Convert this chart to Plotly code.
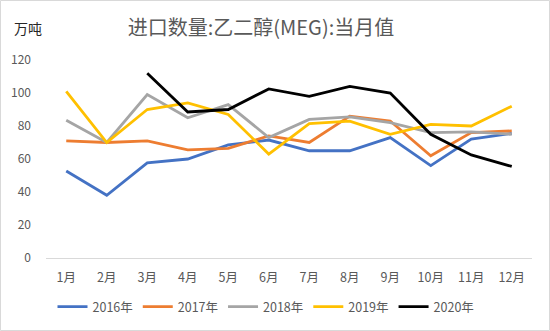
import plotly.graph_objects as go

months = ["1月", "2月", "3月", "4月", "5月", "6月", "7月", "8月", "9月", "10月", "11月", "12月"]
y2016 = [52.7, 38, 57.6, 60, 68.5, 71.5, 65, 65, 73, 56, 72, 75.5]
y2017 = [71, 70, 71, 65.5, 66.5, 74, 70, 86, 83, 62, 76, 77]
y2018 = [83.5, 70, 99, 85, 93, 73, 84, 85.5, 82, 76, 76.5, 75]
y2019 = [101, 70, 90, 94, 87, 63, 81.5, 83, 75, 81, 80, 92]
y2020 = [None, None, 112, 88.5, 90, 102.5, 98, 104, 100, 75, 62.5, 55.5]
names = ["2016年", "2017年", "2018年", "2019年", "2020年"]
colors = ["#4472C4", "#ED7D31", "#A5A5A5", "#FFC000", "#000000"]
yticks = [0, 20, 40, 60, 80, 100, 120]

fig = go.Figure()
for name, ys, c in zip(names, [y2016, y2017, y2018, y2019, y2020], colors):
    fig.add_trace(go.Scatter(x=months, y=ys, name=name, mode="lines",
                             line=dict(color=c, width=2.8), connectgaps=False))

font = "Noto Sans CJK SC"
L, R, T, B = 46, 18, 60, 73
pw, ph = 550 - L - R, 331 - T - B
fig.update_layout(
    width=550, height=331,
    paper_bgcolor="white", plot_bgcolor="white",
    margin=dict(l=L, r=R, t=T, b=B, autoexpand=False),
    font=dict(family=font, color="#595959", size=12),
    title=dict(text="进口数量:乙二醇(MEG):当月值", xref="paper", x=(261 - L) / pw, xanchor="center",
               yref="container", y=1 - 28 / 331, yanchor="middle",
               font=dict(size=20, color="#595959", family=font)),
    showlegend=True,
    legend=dict(orientation="h", x=(266 - L) / pw, xanchor="center",
                y=-(307 - (331 - B)) / ph, yanchor="middle",
                font=dict(size=12.5, color="#595959", family=font), itemwidth=30,
                traceorder="normal"),
    xaxis=dict(type="category", range=[-0.5, 11.5], showgrid=False, showline=True,
               linecolor="#D9D9D9", linewidth=1, ticks="", ticklabelstandoff=8,
               automargin=False, tickfont=dict(size=12.5, color="#595959")),
    yaxis=dict(range=[0, 120], tickvals=yticks, showgrid=False, zeroline=False,
               showline=False, ticks="", ticklabelstandoff=14, automargin=False,
               tickfont=dict(size=12, color="#595959")),
    annotations=[dict(text="万吨", xref="paper", yref="paper", x=(12 - L) / pw, y=1 + (T - 28) / ph,
                      xanchor="left", yanchor="middle", showarrow=False,
                      font=dict(size=14, color="#262626", family=font))],
    shapes=[dict(type="rect", xref="paper", yref="paper",
                 x0=-(L - 0.5) / pw, x1=(550 - L - 0.5) / pw,
                 y0=-(B - 0.5) / ph, y1=1 + (T - 0.5) / ph,
                 line=dict(color="#D9D9D9", width=1), fillcolor="rgba(0,0,0,0)")]
)
fig.write_html("out.html")
